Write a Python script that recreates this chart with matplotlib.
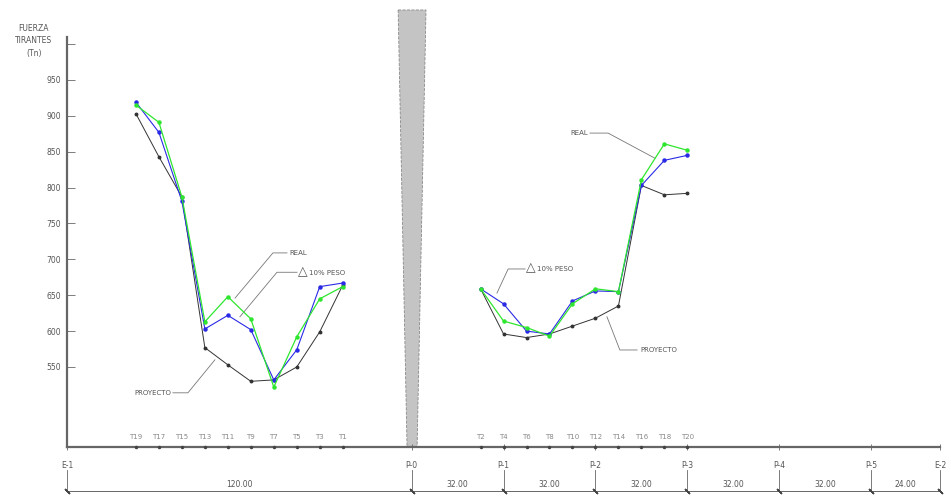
import matplotlib.pyplot as plt
import numpy as np

# piers along the deck (m) and their labels
pier_x = [0, 120, 152, 184, 216, 248, 280, 304]
pier_labels = ['E-1', 'P-0', 'P-1', 'P-2', 'P-3', 'P-4', 'P-5', 'E-2']

# left cantilever tendons
left_x = [24, 32, 40, 48, 56, 64, 72, 80, 88, 96]
left_labels = ['T19', 'T17', 'T15', 'T13', 'T11', 'T9', 'T7', 'T5', 'T3', 'T1']
proy_left = [903, 843, 787, 577, 553, 530, 532, 550, 599, 664]
peso_left = [919, 877, 781, 603, 622, 602, 532, 574, 662, 667]
real_left = [915, 891, 787, 613, 648, 617, 522, 592, 645, 662]

# right side tendons
right_x = [144, 152, 160, 168, 176, 184, 192, 200, 208, 216]
right_labels = ['T2', 'T4', 'T6', 'T8', 'T10', 'T12', 'T14', 'T16', 'T18', 'T20']
proy_right = [659, 596, 591, 596, 607, 618, 635, 803, 790, 792]
peso_right = [659, 638, 600, 596, 642, 656, 655, 803, 838, 845]
real_right = [659, 614, 605, 593, 638, 659, 655, 811, 861, 852]

yticks = [550, 600, 650, 700, 750, 800, 850, 900, 950, 1000]
ytick_labels = ['550', '600', '650', '700', '750', '800', '850', '900', '950', '']

grey = '#666666'
txt = '#555555'
fs = 5.5

fig = plt.figure(figsize=(9.51, 5.0), dpi=100)
ax = fig.add_axes([0, 0, 1, 1])
ax.set_xlim(-23.33, 307.8)
ax.set_ylim(364.6, 1061.5)

# axes drawn as spines at the data origin
for s in ['top', 'right']:
    ax.spines[s].set_visible(False)
ax.spines['left'].set_position(('data', 0))
ax.spines['left'].set_bounds(438, 1010)
ax.spines['bottom'].set_position(('data', 438))
ax.spines['bottom'].set_bounds(0, 304)
for s in ['left', 'bottom']:
    ax.spines[s].set_color(grey)
    ax.spines[s].set_linewidth(1.6)

ax.set_yticks(yticks)
ax.set_yticklabels(ytick_labels)
ax.tick_params(axis='y', direction='in', length=6, width=0.6, color=grey,
               labelsize=fs, labelcolor=txt, pad=4)
ax.set_xticks(pier_x)
ax.set_xticklabels(pier_labels)
ax.tick_params(axis='x', direction='inout', length=4, width=0.6, color=grey,
               labelsize=fs, labelcolor=txt, pad=8)

ax.text(-11.5, 1005, 'FUERZA\nTIRANTES\n(Tn)', ha='center', va='center',
        fontsize=fs, color=txt, linespacing=1.5)

# pier P-0 shaft
ax.fill([115.3, 125.0, 121.9, 118.4], [1047.6, 1047.6, 438, 438],
        facecolor='#c4c4c4', edgecolor='#888888', linestyle='--', lw=0.6, zorder=1)

# tendon marks on the axis
ax.plot(left_x + right_x, [438] * 20, 'o', ms=1.5, color='#444444', clip_on=False, zorder=4)
for x, lab in zip(left_x + right_x, left_labels + right_labels):
    ax.text(x, 452, lab, ha='center', va='center', fontsize=5, color='#888888')

# series
for xs, proy, peso, real in [(left_x, proy_left, peso_left, real_left),
                             (right_x, proy_right, peso_right, real_right)]:
    ax.plot(xs, proy, '-o', color='#333333', lw=0.7, ms=1.8, zorder=3)
    ax.plot(xs, peso, '-o', color='#2a2ae6', lw=0.8, ms=2.2, zorder=4)
    ax.plot(xs, real, '-o', color='#2ee62e', lw=0.9, ms=2.2, zorder=5)

# leaders and labels
lead = dict(color='#777777', lw=0.6, zorder=2)
ax.plot([58.5, 71.7, 76.6], [646, 709, 709], **lead)
ax.text(77.6, 709, 'REAL', fontsize=5, color=txt, va='center')
ax.plot([60.2, 73.1, 80.1], [620, 682, 682], **lead)
ax.text(80.3, 683, '△', fontsize=9, color=txt, va='center')
ax.text(84.3, 681, '10% PESO', fontsize=5, color=txt, va='center')
ax.plot([51.5, 42.1, 36.9], [560, 514, 514], **lead)
ax.text(36.4, 514, 'PROYECTO', fontsize=5, color=txt, va='center', ha='right')

ax.plot([149.7, 153.6, 159.5], [653, 686.6, 686.6], **lead)
ax.text(159.8, 688, '△', fontsize=9, color=txt, va='center')
ax.text(163.8, 686, '10% PESO', fontsize=5, color=txt, va='center')
ax.plot([188, 192.5, 198.5], [620, 573.7, 573.7], **lead)
ax.text(199.5, 573.7, 'PROYECTO', fontsize=5, color=txt, va='center')
ax.plot([204.7, 188.4, 182.1], [841, 876, 876], **lead)
ax.text(181.5, 876, 'REAL', fontsize=5, color=txt, va='center', ha='right')

# dimension line
ax.plot([-0.5, 304], [377, 377], color=grey, lw=0.7)
for x in pier_x:
    ax.plot([x, x], [406, 377], color=grey, lw=0.6)
ax.plot(pier_x, [377] * len(pier_x), ls='none', marker=(2, 2, 45), ms=5,
        mew=1.0, color='#444444')
for a, b in zip(pier_x[:-1], pier_x[1:]):
    ax.text((a + b) / 2, 386, '%.2f' % (b - a), ha='center', va='center',
            fontsize=5.5, color=txt)

fig.savefig('out.png', dpi=100)
